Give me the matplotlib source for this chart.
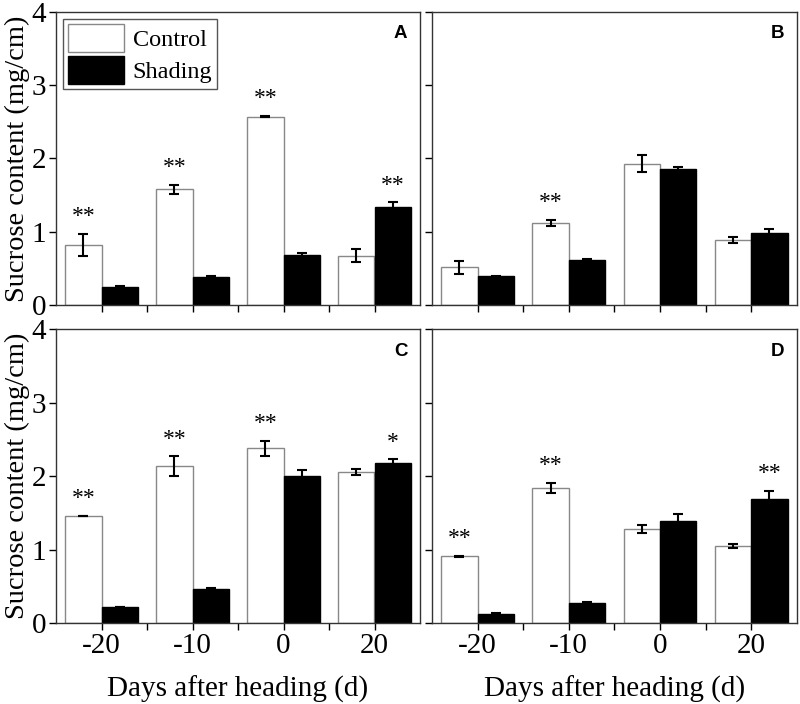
import numpy as np
import matplotlib
matplotlib.use("Agg")
import matplotlib.pyplot as plt
from matplotlib.ticker import FixedLocator

days = ["-20", "-10", "0", "20"]
panels = ["A", "B", "C", "D"]

# mean and error, per panel: Control then Shading
control = {
    "A": [0.82, 1.58, 2.57, 0.67],
    "B": [0.51, 1.12, 1.93, 0.89],
    "C": [1.46, 2.14, 2.38, 2.06],
    "D": [0.91, 1.84, 1.28, 1.05],
}
control_err = {
    "A": [0.15, 0.06, 0.01, 0.09],
    "B": [0.09, 0.04, 0.11, 0.04],
    "C": [0.0, 0.13, 0.10, 0.04],
    "D": [0.01, 0.07, 0.05, 0.03],
}
shading = {
    "A": [0.24, 0.38, 0.68, 1.33],
    "B": [0.39, 0.61, 1.85, 0.98],
    "C": [0.22, 0.47, 2.01, 2.18],
    "D": [0.12, 0.27, 1.39, 1.69],
}
shading_err = {
    "A": [0.02, 0.01, 0.03, 0.07],
    "B": [0.01, 0.01, 0.03, 0.05],
    "C": [0.005, 0.01, 0.07, 0.05],
    "D": [0.01, 0.01, 0.10, 0.11],
}
# significance marks: (series, day index, text)
stars = {
    "A": [("c", 0, "**"), ("c", 1, "**"), ("c", 2, "**"), ("s", 3, "**")],
    "B": [("c", 1, "**")],
    "C": [("c", 0, "**"), ("c", 1, "**"), ("c", 2, "**"), ("s", 3, "*")],
    "D": [("c", 0, "**"), ("c", 1, "**"), ("s", 3, "**")],
}

plt.rcParams['font.family'] = ['Liberation Serif', 'DejaVu Serif']

fig = plt.figure(figsize=(8, 7.04), dpi=100)
positions = {
    "A": [0.07, 0.567, 0.455, 0.416],
    "B": [0.54, 0.567, 0.456, 0.416],
    "C": [0.07, 0.115, 0.455, 0.417],
    "D": [0.54, 0.115, 0.456, 0.417],
}

x = np.arange(len(days))
w = 0.4
edge = "#333333"

for p in panels:
    ax = fig.add_axes(positions[p])
    ax.bar(x - w / 2, control[p], w, color="white", edgecolor="#888888", linewidth=1,
           label="Control", zorder=2)
    ax.bar(x + w / 2, shading[p], w, color="black", edgecolor="black", linewidth=1,
           label="Shading", zorder=2)
    ax.errorbar(x - w / 2, control[p], yerr=control_err[p], fmt="none", ecolor="black",
                elinewidth=1.5, capsize=3.5, capthick=1.5, zorder=3)
    ax.errorbar(x + w / 2, shading[p], yerr=shading_err[p], fmt="none", ecolor="black",
                elinewidth=1.5, capsize=3.5, capthick=1.5, zorder=3)

    for series, i, txt in stars[p]:
        if series == "c":
            xs, top = x[i] - w / 2, control[p][i] + control_err[p][i]
        else:
            xs, top = x[i] + w / 2, shading[p][i] + shading_err[p][i]
        ax.text(xs, top + 0.09, txt, ha="center", va="bottom", fontsize=17)

    ax.set_xlim(-0.5, 3.5)
    ax.set_ylim(0, 4)
    ax.set_yticks([0, 1, 2, 3, 4])
    ax.set_xticks(x)
    ax.xaxis.set_minor_locator(FixedLocator([0.5, 1.5, 2.5]))
    ax.tick_params(axis="both", which="both", direction="out", length=5, width=1,
                   labelsize=21, colors="black")
    ax.tick_params(axis="both", which="major", pad=2)
    for s in ax.spines.values():
        s.set_color(edge)
        s.set_linewidth(1)

    if p in ("A", "C"):
        ax.set_ylabel("Sucrose content (mg/cm)", fontsize=20.5, labelpad=1)
    else:
        ax.set_yticklabels([])
    if p in ("C", "D"):
        ax.set_xticklabels(days)
        ax.set_xlabel("Days after heading (d)", fontsize=21, labelpad=12)
    else:
        ax.set_xticklabels([])

    ax.text(0.965, 0.955, p, transform=ax.transAxes, ha="right", va="top",
            fontsize=13.5, fontweight="bold", family="Liberation Sans")

    if p == "A":
        ax.legend(loc="upper left", fontsize=17.5, frameon=True, fancybox=False,
                  edgecolor="#555555", framealpha=1, handlelength=2.3, handleheight=1.4,
                  borderpad=0.2, labelspacing=0.15, handletextpad=0.35,
                  borderaxespad=0.3)

fig.savefig("out.png", dpi=100)
